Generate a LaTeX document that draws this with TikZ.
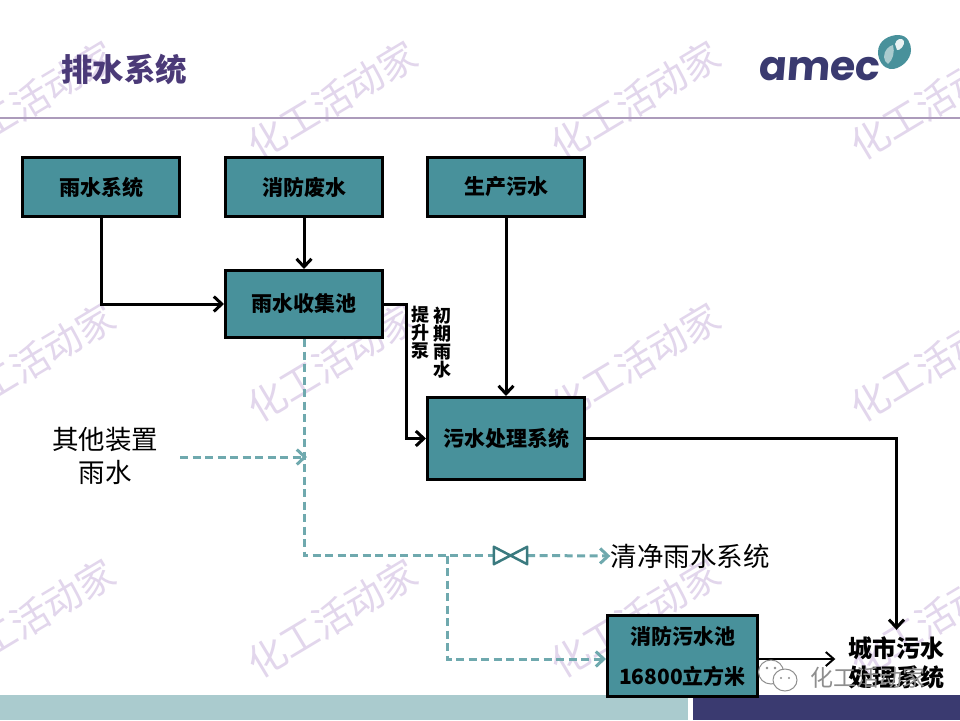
\documentclass[tikz,border=0pt]{standalone}
\usepackage{fontspec}
\usetikzlibrary{arrows.meta,calc}
\setmainfont{Noto Sans CJK SC}
\newfontfamily\logofont{Poppins}
\definecolor{boxteal}{HTML}{48919B}
\definecolor{dashteal}{HTML}{6FA9AE}
\definecolor{valveteal}{HTML}{3A7A7F}
\definecolor{titlepurple}{HTML}{4B3A78}
\definecolor{rulepurple}{HTML}{AC9BBB}
\definecolor{wmark}{HTML}{E2D6EC}
\definecolor{bandlight}{HTML}{AACBCE}
\definecolor{navy}{HTML}{3A3A70}
\definecolor{wxgray}{HTML}{8E8E8E}
\newcommand{\fsz}[1]{\fontsize{#1}{#1}\selectfont}
\tikzset{
  x=1pt,y=-1pt,
  flowbox/.style={draw=black,line width=3pt,fill=boxteal,inner sep=0pt,font=\fsz{21}\bfseries,text=black,align=center},
  mainline/.style={draw=black,line width=3pt,line join=miter,-{Straight Barb[length=8pt,width=15pt,line width=3pt]}},
  thinline/.style={draw=black,line width=2pt,-{Straight Barb[length=8pt,width=14pt,line width=2pt]}},
  dashline/.style={draw=dashteal,line width=3pt,dash pattern=on 8pt off 4.5pt},
  dasharrow/.style={dashline,-{Straight Barb[length=8pt,width=15pt,line width=3pt]}},
  plainlabel/.style={font=\fsz{26.5},text=black,inner sep=0pt,align=center},
  sidelabel/.style={font=\fsz{18}\bfseries,text=black,inner sep=0pt,align=center},
  watermark/.style={font=\fsz{38},text=wmark,rotate=31,inner sep=0pt},
}
\begin{document}
\begin{tikzpicture}
\useasboundingbox (0,0) rectangle (960,720);
\fill[white] (0,0) rectangle (960,720);
% watermarks
\foreach \n/\px/\py in {a/30/100,b/332/100,c/635/100,d/935/100,e/30/362,f/332/362,g/635/362,h/935/362,i/30/618,j/332/618,k/635/618,l/935/618}
  \node[watermark] (wm\n) at (\px,\py) {化工活动家};
% footer band
\fill[bandlight] (0,695) rectangle (688,720);
\fill[navy] (693,695) rectangle (960,720);
% title and rule
\node[font=\fsz{31.5}\bfseries,text=titlepurple,inner sep=0pt] (title) at (124,69) {排水系统};
\draw[rulepurple,line width=2pt] (0,118) -- (960,118);
% logo
\node[font=\logofont\fsz{41}\bfseries,text=navy,inner sep=0pt,xslant=0.08] (logo) at (820,69) {amec};
\fill[boxteal] (878,52) .. controls (878,40) and (890,35) .. (898,35)
  .. controls (908,35) and (911,44) .. (911,50)
  .. controls (911,60) and (900,70) .. (890,69)
  .. controls (883,68) and (878,60) .. (878,52) -- cycle;
\fill[bandlight] (884,57) .. controls (884,50) and (889,46) .. (893,45)
  .. controls (895,52) and (893,60) .. (888,64)
  .. controls (886,63) and (884,60) .. (884,57) -- cycle;
\fill[white!75!bandlight] (895,44) .. controls (896,39) and (902,37) .. (904,41)
  .. controls (905,45) and (900,51) .. (897,50) -- cycle;
% boxes
\node[flowbox,minimum width=157pt,minimum height=59pt] (rain) at (101,187) {雨水系统};
\node[flowbox,minimum width=157pt,minimum height=59pt] (fire) at (304,187) {消防废水};
\node[flowbox,minimum width=157pt,minimum height=59pt] (prod) at (506,187) {生产污水};
\node[flowbox,minimum width=157pt,minimum height=67pt] (pool) at (304,304) {雨水收集池};
\node[flowbox,minimum width=157pt,minimum height=82pt] (sew) at (506,438.5) {污水处理系统};
\node[flowbox,minimum width=150pt,minimum height=81pt,align=center] (firepool) at (682.5,656) {消防污水池\\[19pt]16800立方米};
% labels
\node[sidelabel] (lift) at (420,333) {提\\升\\泵};
\node[sidelabel] (first) at (442,343) {初\\期\\雨\\水};
\node[plainlabel] (other) at (105,456) {其他装置\\[6pt]雨水};
\node[plainlabel] (clean) at (690,556) {清净雨水系统};
\node[font=\fsz{24}\bfseries,text=black,inner sep=0pt,align=center,minimum width=122pt,minimum height=66pt] (city) at (896.5,663) {城市污水\\[5pt]处理系统};
% solid connectors
\draw[mainline] (rain.south) |- (pool.west);
\draw[mainline] (fire.south) -- (pool.north);
\draw[mainline] (prod.south) -- (sew.north);
\draw[mainline] (pool.east) -- ++(22,0) |- (sew.west);
\draw[mainline] (sew.east) -| (city.north);
\draw[thinline] (firepool.east |- 0,659) -- (city.west |- 0,659);
% dashed connectors and valve
\node[minimum width=33pt,minimum height=17pt,inner sep=0pt] (valve) at (510.5,555.5) {};
\coordinate (corner) at (pool.south |- valve.west);
\coordinate (branch) at (447,555.5);
\coordinate (otherend) at (180,457);
\coordinate (otherjoin) at (307,457);
\draw[dashline] (pool.south) -- (corner) -- (valve.west);
\draw[dasharrow] (otherend) -- (otherjoin);
\draw[dasharrow] (valve.east) -- (clean.west);
\draw[dasharrow] (branch) |- (firepool.west |- 0,659);
\draw[valveteal,line width=2.5pt,line join=round,fill=white]
  (valve.north west) -- (valve.south east) -- (valve.north east) -- (valve.south west) -- cycle;
% wechat mark
\begin{scope}[wxgray,line width=1pt]
\draw[fill=white] (771,672) ellipse [x radius=12.5pt,y radius=12pt];
\fill (767,668) circle (1.3pt) (775,668) circle (1.3pt);
\draw[fill=white] (785,680) ellipse [x radius=12pt,y radius=11pt];
\fill (781,678) circle (1.2pt) (789,678) circle (1.2pt);
\end{scope}
\node[font=\fsz{23},text=wxgray,inner sep=0pt] (wxname) at (868,678) {化工活动家};
\end{tikzpicture}
\end{document}
